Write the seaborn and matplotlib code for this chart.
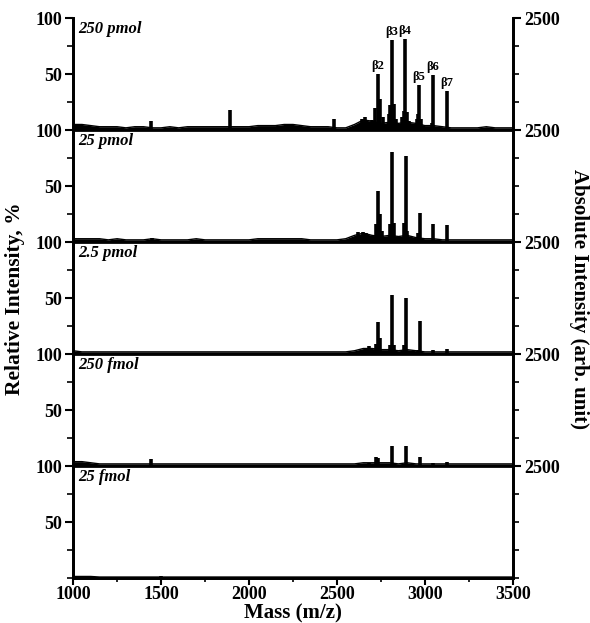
#!/usr/bin/env python3
"""MALDI spectra of a dilution series, stacked panels"""

import numpy as np
import pandas as pd
import matplotlib
matplotlib.use('Agg')
import matplotlib.pyplot as plt
import seaborn as sns
from matplotlib.ticker import FixedLocator

# --- data ---
amounts = ['250 pmol', '25 pmol', '2.5 pmol', '250 fmol', '25 fmol']

# baseline sampled every 50 Da from 1000 to 3500 (relative intensity, %)
base_mz = list(range(1000, 3501, 50))
base_250p = [5, 5, 4, 3, 3, 3, 2, 3, 3, 2, 2, 3, 2, 3, 3, 3, 3, 3, 3, 3, 3, 4, 4, 4, 5, 5,
             4, 3, 3, 3, 2, 2, 5, 9, 8, 6, 7, 6, 7, 6, 4, 4, 3, 2, 2, 2, 2, 3, 2, 2, 2]
base_25p = [3, 3, 3, 3, 2, 3, 2, 2, 2, 3, 2, 2, 2, 2, 3, 2, 2, 2, 2, 2, 2, 3, 3, 3, 3, 3,
            3, 2, 2, 2, 2, 3, 6, 8, 6, 5, 6, 5, 6, 4, 3, 3, 2, 2, 2, 2, 2, 2, 2, 2, 2]
base_2p5p = [3, 2, 2, 2, 2, 2, 2, 2, 2, 2, 2, 2, 2, 2, 2, 2, 2, 2, 2, 2, 2, 2, 2, 2, 2, 2,
             2, 2, 2, 2, 2, 2, 3, 5, 5, 4, 4, 3, 4, 3, 2, 2, 2, 2, 2, 2, 2, 2, 2, 2, 2]
base_250f = [4, 4, 3, 2, 2, 2, 2, 2, 2, 2, 2, 2, 2, 2, 2, 2, 2, 2, 2, 2, 2, 2, 2, 2, 2, 2,
             2, 2, 2, 2, 2, 2, 2, 3, 3, 3, 3, 2, 3, 2, 2, 2, 2, 2, 2, 2, 2, 2, 2, 2, 2]
base_25f = [1.5, 1.5, 1.5, 1, 1, 1, 1, 1, 1, 1, 1, 1, 1, 1, 1, 1, 1, 1, 1, 1, 1, 1, 1, 1, 1, 1,
            1, 1, 1, 1, 1, 1, 1, 1, 1, 1, 1, 1, 1, 1, 1, 1, 1, 1, 1, 1, 1, 1, 1, 1, 1]

# individual peaks (m/z, relative intensity %)
peak_mz_250p = [1440, 1892, 2485, 2640, 2660, 2700, 2718, 2733, 2745, 2760, 2795, 2803, 2811,
                2822, 2835, 2872, 2880, 2888, 2898, 2910, 2955, 2962, 2968, 2978, 3040, 3047, 3127]
peak_int_250p = [8, 18, 10, 10, 12, 9, 20, 50, 28, 12, 14, 22, 80,
                 23, 10, 12, 17, 81, 16, 8, 10, 14, 40, 10, 6, 49, 35]
peak_mz_25p = [1450, 2620, 2650, 2665, 2720, 2733, 2745, 2755, 2800, 2812, 2822,
               2880, 2892, 2900, 2962, 2970, 3047, 3127]
peak_int_25p = [4, 9, 9, 8, 16, 46, 25, 10, 16, 80, 17, 17, 77, 10, 8, 26, 16, 15]
peak_mz_2p5p = [2680, 2720, 2733, 2745, 2800, 2812, 2822, 2880, 2892, 2962, 2970, 3047, 3127]
peak_int_2p5p = [7, 9, 29, 14, 8, 53, 8, 8, 50, 4, 30, 4, 5]
peak_mz_250f = [1440, 2680, 2725, 2733, 2812, 2892, 2970, 3047, 3127]
peak_int_250f = [6, 3, 8, 7, 18, 18, 8, 3, 4]
peak_mz_25f = [1050, 1500]
peak_int_25f = [2, 1.5]

baselines = [base_250p, base_25p, base_2p5p, base_250f, base_25f]
peaks_mz = [peak_mz_250p, peak_mz_25p, peak_mz_2p5p, peak_mz_250f, peak_mz_25f]
peaks_int = [peak_int_250p, peak_int_25p, peak_int_2p5p, peak_int_250f, peak_int_25f]

# beta labels on top panel
beta_labels = ['β2', 'β3', 'β4', 'β5', 'β6', 'β7']
beta_mz = [2733, 2811, 2888, 2968, 3047, 3127]
beta_int = [50, 80, 81, 40, 49, 35]

# --- styling ---
sns.set_style('ticks')
plt.rcParams['font.family'] = ['Liberation Serif', 'DejaVu Serif']
plt.rcParams['font.weight'] = 'bold'
plt.rcParams['axes.edgecolor'] = 'black'
plt.rcParams['text.color'] = 'black'
plt.rcParams['xtick.color'] = 'black'
plt.rcParams['ytick.color'] = 'black'
plt.rcParams['axes.labelcolor'] = 'black'

fig, axes = plt.subplots(5, 1, figsize=(5.9, 6.23), dpi=100, sharex=True)
fig.subplots_adjust(left=0.124, right=0.869, top=0.971, bottom=0.072, hspace=0)

for i, ax in enumerate(axes):
    df = pd.DataFrame({'mz': base_mz, 'intensity': baselines[i]})
    ax.fill_between(df['mz'], 0, df['intensity'], color='black', lw=0)
    sns.lineplot(data=df, x='mz', y='intensity', ax=ax, color='black', lw=1.0)
    ax.vlines(peaks_mz[i], 0, peaks_int[i], color='black', lw=2.6)

    ax.set_xlim(1000, 3500)
    ax.set_ylim(0, 100)
    ax.set_xlabel('')
    ax.set_ylabel('')

    ax.yaxis.set_major_locator(FixedLocator([50, 100]))
    ax.yaxis.set_minor_locator(FixedLocator([0, 25, 75]))
    ax.tick_params(axis='y', which='major', length=6, width=1.5, labelsize=13, pad=2)
    ax.tick_params(axis='y', which='minor', length=4, width=1.2)
    for lab in ax.get_yticklabels():
        lab.set_fontweight('bold')

    for side in ['left', 'right', 'bottom']:
        ax.spines[side].set_linewidth(2)
    ax.spines['top'].set_visible(False)

    ax.text(0.012, 0.97, amounts[i], transform=ax.transAxes, ha='left', va='top',
            fontsize=12, fontweight='bold', fontstyle='italic')

    # right axis: absolute intensity
    ax2 = ax.twinx()
    ax2.set_ylim(0, 2500)
    ax2.yaxis.set_major_locator(FixedLocator([2500]))
    ax2.yaxis.set_minor_locator(FixedLocator([0, 625, 1250, 1875]))
    ax2.tick_params(axis='y', which='major', length=6, width=1.5, labelsize=13, pad=2)
    ax2.tick_params(axis='y', which='minor', length=4, width=1.2)
    for lab in ax2.get_yticklabels():
        lab.set_fontweight('bold')
    for side in ['left', 'right', 'bottom']:
        ax2.spines[side].set_linewidth(2)
    ax2.spines['top'].set_visible(False)

    if i < 4:
        ax.tick_params(axis='x', which='both', bottom=False, labelbottom=False)

# x axis on the bottom panel
ax = axes[-1]
ax.set_xticks([1000, 1500, 2000, 2500, 3000, 3500])
ax.set_xticks(np.arange(1000, 3501, 250), minor=True)
ax.tick_params(axis='x', which='major', length=5, width=1.5, labelsize=13, pad=1)
ax.tick_params(axis='x', which='minor', length=3, width=1.2)
for lab in ax.get_xticklabels():
    lab.set_fontweight('bold')
ax.set_xlabel('Mass (m/z)', fontsize=15, fontweight='bold', labelpad=0)

# beta labels
for lab, mz, val in zip(beta_labels, beta_mz, beta_int):
    axes[0].text(mz, val + 2, lab, ha='center', va='bottom', fontsize=9, fontweight='bold')

fig.text(0.025, 0.52, 'Relative Intensity, %', rotation=90, ha='center', va='center',
         fontsize=15.5, fontweight='bold')
fig.text(0.982, 0.52, 'Absolute Intensity (arb. unit)', rotation=270, ha='center',
         va='center', fontsize=15, fontweight='bold')

plt.savefig('out.png', dpi=100)
plt.close()
